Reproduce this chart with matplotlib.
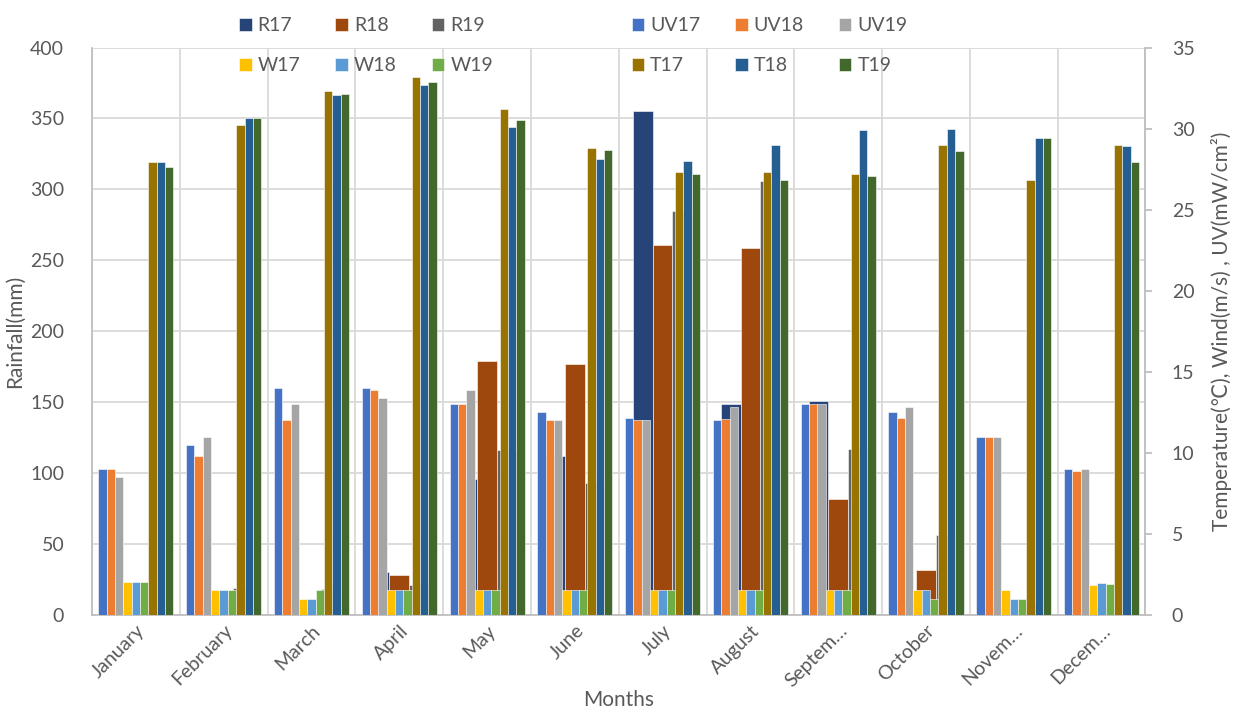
import numpy as np
import matplotlib.pyplot as plt
from matplotlib.patches import Patch

months = ["January", "February", "March", "April", "May", "June", "July",
          "August", "Septem…", "October", "Novem…", "Decem…"]

# rainfall (mm), left axis
r17 = [4, 10, 10, 30, 96, 112, 355, 149, 151, 10, 6, 5]
r18 = [5, 12, 3, 28, 179, 177, 261, 259, 82, 32, 4, 6]
r19 = [3, 19, 18, 21, 116, 93, 285, 306, 117, 56, 8, 4]

# UV (mW/cm2), wind (m/s), temperature (C), right axis
uv17 = [9.0, 10.5, 14.0, 14.0, 13.0, 12.5, 12.15, 12.0, 13.0, 12.5, 11.0, 9.0]
uv18 = [9.0, 9.8, 12.0, 13.9, 13.0, 12.0, 12.0, 12.1, 13.0, 12.15, 11.0, 8.9]
uv19 = [8.5, 11.0, 13.0, 13.4, 13.9, 12.0, 12.0, 12.8, 13.0, 12.8, 11.0, 9.0]
w17 = [2.05, 1.53, 1.0, 1.53, 1.53, 1.53, 1.53, 1.53, 1.53, 1.53, 1.53, 1.85]
w18 = [2.05, 1.53, 1.0, 1.53, 1.53, 1.53, 1.53, 1.53, 1.53, 1.53, 1.0, 1.97]
w19 = [2.05, 1.53, 1.53, 1.53, 1.53, 1.53, 1.53, 1.53, 1.53, 1.0, 1.0, 1.9]
t17 = [27.95, 30.25, 32.35, 33.2, 31.2, 28.8, 27.35, 27.3, 27.2, 29.0, 26.8, 29.0]
t18 = [27.95, 30.65, 32.05, 32.7, 30.1, 28.1, 28.0, 29.0, 29.9, 30.0, 29.4, 28.9]
t19 = [27.65, 30.65, 32.15, 32.9, 30.5, 28.65, 27.2, 26.85, 27.1, 28.6, 29.4, 27.95]

rain = [("R17", r17, "#264478"), ("R18", r18, "#9E480E"), ("R19", r19, "#636363")]
other = [("UV17", uv17, "#4472C4"), ("UV18", uv18, "#ED7D31"), ("UV19", uv19, "#A5A5A5"),
         ("W17", w17, "#FFC000"), ("W18", w18, "#5B9BD5"), ("W19", w19, "#70AD47"),
         ("T17", t17, "#997300"), ("T18", t18, "#255E91"), ("T19", t19, "#43682B")]

plt.rcParams["font.family"] = ["Lato", "DejaVu Sans"]
txt = "#595959"
grid = "#D9D9D9"

fig = plt.figure(figsize=(12.33, 7.15), dpi=100)
ax = fig.add_axes([0.0746, 0.14, 0.8544, 0.7935])
ax2 = ax.twinx()

x = np.arange(len(months))
handles = {}

w_r = 0.224
for i, (name, vals, col) in enumerate(rain):
    b = ax.bar(x + (i - 1) * w_r, vals, w_r, color=col, edgecolor="white",
               linewidth=0.4, label=name, zorder=2)
    handles[name] = b

w_o = 0.095
for i, (name, vals, col) in enumerate(other):
    b = ax2.bar(x + (i - 4) * w_o, vals, w_o, color=col, edgecolor="white",
                linewidth=0.4, label=name, zorder=2)
    handles[name] = b

ax.set_xlim(-0.5, len(months) - 0.5)
ax.set_ylim(0, 400)
ax.set_yticks(np.arange(0, 401, 50))
ax2.set_ylim(0, 35)
ax2.set_yticks(np.arange(0, 36, 5))

ax.set_axisbelow(True)
ax.yaxis.grid(True, color=grid, linewidth=1.3)
ax.set_xticks(x)
ax.set_xticks(np.arange(-0.5, len(months), 1), minor=True)
ax.xaxis.grid(True, which="minor", color=grid, linewidth=1.3)
ax.set_xticklabels(months, rotation=45, ha="right", rotation_mode="anchor")

for a in (ax, ax2):
    for s in a.spines.values():
        s.set_visible(False)
ax.spines["left"].set_visible(True)
ax.spines["bottom"].set_visible(True)
ax2.spines["right"].set_visible(True)
for s in (ax.spines["left"], ax.spines["bottom"], ax2.spines["right"]):
    s.set_color("#BFBFBF")
    s.set_linewidth(1.3)

ax.tick_params(axis="y", length=0, pad=20, labelsize=14, labelcolor=txt)
ax.tick_params(axis="x", which="both", length=0, pad=5, labelsize=14, labelcolor=txt)
ax2.tick_params(axis="y", length=5, width=1.3, color="#BFBFBF", pad=14,
                labelsize=14, labelcolor=txt)

ax.set_ylabel("Rainfall(mm)", fontsize=15, color=txt, labelpad=4)
ax.set_xlabel("Months", fontsize=15, color=txt, labelpad=0)
ax2.set_ylabel("Temperature(℃), Wind(m/s) , UV(mW/cm²)", fontsize=15, color=txt,
               labelpad=12)

blank = Patch(facecolor="none", edgecolor="none")
order = [("R17", "W17"), ("R18", "W18"), ("R19", "W19"), (None, None),
         ("UV17", "T17"), ("UV18", "T18"), ("UV19", "T19")]
leg_h, leg_l = [], []
for top, bot in order:
    for n in (top, bot):
        leg_h.append(handles[n] if n else blank)
        leg_l.append(n if n else " " * 10)
fig.legend(leg_h, leg_l, ncol=7, loc="upper center",
           bbox_to_anchor=(0.465, 1.0), frameon=False, fontsize=14,
           labelcolor=txt, handlelength=0.65, handleheight=0.65,
           handletextpad=0.3, columnspacing=1.8, labelspacing=1.15)

fig.savefig("out.png", dpi=100)
